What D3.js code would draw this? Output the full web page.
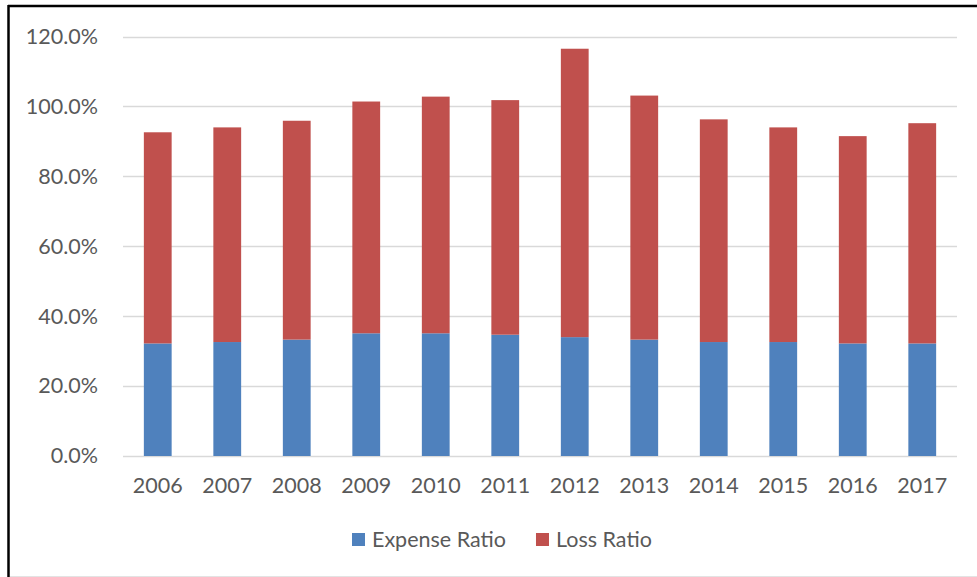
<!DOCTYPE html>
<html>
<head>
<meta charset="utf-8">
<script src="https://cdn.jsdelivr.net/npm/d3@7"></script>
<style>
  html, body { margin: 0; padding: 0; background: #fff; }
  svg { display: block; }
  text { font-family: Lato, "Open Sans", sans-serif; fill: #595959; }
</style>
</head>
<body>
<svg id="chart" width="977" height="577"></svg>
<script>
const years = ["2006", "2007", "2008", "2009", "2010", "2011", "2012", "2013", "2014", "2015", "2016", "2017"]
const expenseRatio = [32.2, 32.6, 33.3, 35.1, 35.1, 34.7, 34.0, 33.3, 32.6, 32.6, 32.2, 32.2]
const lossRatio    = [60.4, 61.4, 62.6, 66.3, 67.7, 67.1, 82.5, 69.8, 63.7, 61.4, 59.3, 63.0]
const yTicks = [0, 20, 40, 60, 80, 100, 120]
const seriesNames = ["Expense Ratio", "Loss Ratio"]
const seriesColors = ["#4f81bd", "#c0504d"]

const svg = d3.select("#chart")
const fontSize = 21.5

// frame: thick top and left edges, faint bottom line
svg.append("line").attr("x1", 8).attr("x2", 977).attr("y1", 6).attr("y2", 6)
  .attr("stroke", "#000").attr("stroke-width", 2.5)
svg.append("line").attr("x1", 8.5).attr("x2", 8.5).attr("y1", 5).attr("y2", 577)
  .attr("stroke", "#000").attr("stroke-width", 2.5)
svg.append("line").attr("x1", 10).attr("x2", 977).attr("y1", 576.5).attr("y2", 576.5)
  .attr("stroke", "#e3e3e3").attr("stroke-width", 1)

const plotL = 123, plotR = 957, plotT = 36.5, plotB = 456

const x = d3.scaleBand().domain(years).range([plotL, plotR]).paddingInner(0.6).paddingOuter(0.3)
const y = d3.scaleLinear().domain([0, 120]).range([plotB, plotT])

// gridlines
svg.append("g").selectAll("line")
  .data(yTicks).enter().append("line")
  .attr("x1", plotL).attr("x2", plotR)
  .attr("y1", d => Math.round(y(d)) + 0.5).attr("y2", d => Math.round(y(d)) + 0.5)
  .attr("stroke", "#d9d9d9").attr("stroke-width", 1.5)

// y axis labels
const yAxis = svg.append("g").attr("transform", `translate(${plotL - 22},0)`)
  .call(d3.axisLeft(y).tickValues(yTicks).tickSize(0).tickFormat(d => d3.format(".1f")(d) + "%"))
yAxis.select(".domain").remove()
yAxis.selectAll("text").attr("font-size", fontSize).attr("fill", "#595959")
  .style("font-family", "Lato, 'Open Sans', sans-serif")

// x axis labels
const xAxis = svg.append("g").attr("transform", `translate(0,${plotB + 19})`)
  .call(d3.axisBottom(x).tickSize(0))
xAxis.select(".domain").remove()
xAxis.selectAll("text").attr("font-size", fontSize).attr("fill", "#595959")
  .style("font-family", "Lato, 'Open Sans', sans-serif")

// stacked bars
const rows = years.map((yr, i) => ({ year: yr, "Expense Ratio": expenseRatio[i], "Loss Ratio": lossRatio[i] }))
const stacked = d3.stack().keys(seriesNames)(rows)

svg.append("g").selectAll("g")
  .data(stacked).enter().append("g")
  .attr("fill", (d, i) => seriesColors[i])
  .selectAll("rect")
  .data(d => d).enter().append("rect")
  .attr("x", d => x(d.data.year))
  .attr("width", x.bandwidth())
  .attr("y", d => y(d[1]))
  .attr("height", d => y(d[0]) - y(d[1]))

// legend
const legend = svg.append("g")
let lx = 352
seriesNames.forEach((name, i) => {
  legend.append("rect").attr("x", lx).attr("y", 533).attr("width", 13).attr("height", 13)
    .attr("fill", seriesColors[i])
  const t = legend.append("text").attr("x", lx + 20).attr("y", 547)
    .attr("font-size", fontSize).text(name)
  lx += 20 + t.node().getComputedTextLength() + 30
})
</script>
</body>
</html>
